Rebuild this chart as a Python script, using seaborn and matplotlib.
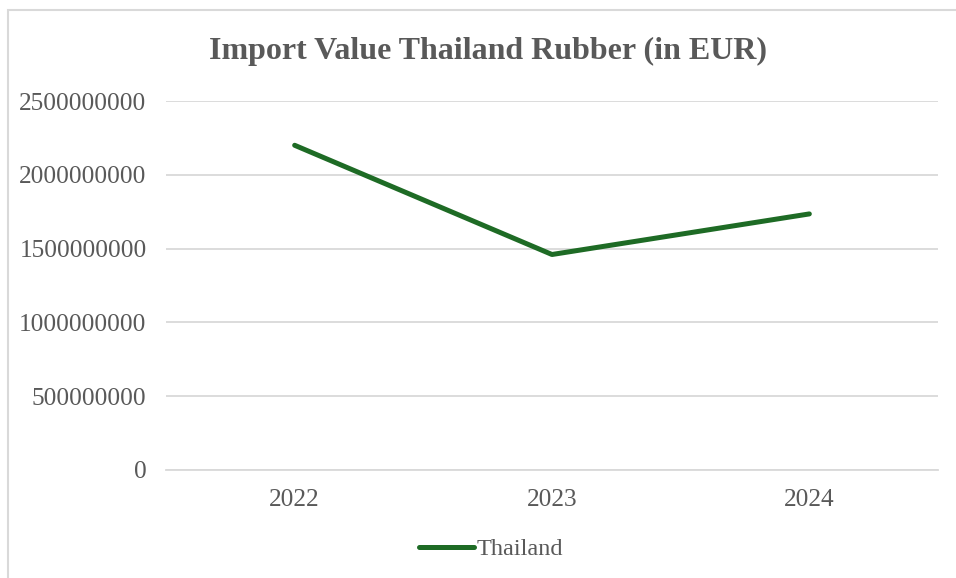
import matplotlib
matplotlib.use("Agg")
import matplotlib.pyplot as plt
import seaborn as sns
import pandas as pd
from matplotlib.patches import Rectangle
from matplotlib.lines import Line2D

years = ["2022", "2023", "2024"]
values = [2200000000, 1460000000, 1735000000]
yticks = [0, 500000000, 1000000000, 1500000000, 2000000000, 2500000000]
series_name = "Thailand"
title = "Import Value Thailand Rubber (in EUR)"

df = pd.DataFrame({"Year": years, "Value": values, "Country": series_name})

sns.set_theme(style="white")
plt.rcParams["font.family"] = ["Liberation Serif", "DejaVu Serif"]

W, H = 956, 578
fig = plt.figure(figsize=(W / 100, H / 100), dpi=100)
ax = fig.add_axes([166 / W, (H - 470) / H, (938 - 166) / W, (470 - 101) / H])

green = "#1e6b25"
grey = "#595959"

sns.lineplot(data=df, x="Year", y="Value", hue="Country", palette=[green],
             linewidth=3.6, ax=ax, legend=False, sort=False)
ax.lines[0].set_solid_capstyle("round")

ax.set_xlim(-0.5, 2.5)
ax.set_ylim(0, 2500000000)
ax.set_yticks(yticks)
ax.set_yticklabels([str(v) for v in yticks])
ax.yaxis.grid(True, color="#d9d9d9", linewidth=1.3)
ax.xaxis.grid(False)
for s in ["top", "right", "left"]:
    ax.spines[s].set_visible(False)
ax.spines["bottom"].set_color("#d9d9d9")
ax.spines["bottom"].set_linewidth(1.3)
ax.tick_params(axis="both", length=0, labelsize=18.3, labelcolor=grey)
ax.tick_params(axis="y", pad=14)
ax.tick_params(axis="x", pad=14)
ax.set_xlabel("")
ax.set_ylabel("")

fig.text(488 / W, 1 - 51 / H, title, ha="center", va="center",
         fontsize=23, fontweight="bold", color=grey)

handle = Line2D([], [], color=green, linewidth=3.6, solid_capstyle="round")
leg = fig.legend([handle], [series_name], loc="center", bbox_to_anchor=(491 / W, 1 - 549 / H),
                 frameon=False, fontsize=17.5, handlelength=2.3, handletextpad=0.1,
                 labelcolor=grey)

fig.patches.append(Rectangle((7.5 / W, -0.1), 1.2, (H - 10.5) / H + 0.1,
                             transform=fig.transFigure, fill=False,
                             edgecolor="#d9d9d9", linewidth=1.5))

fig.savefig("out.png", dpi=100, facecolor="white")
